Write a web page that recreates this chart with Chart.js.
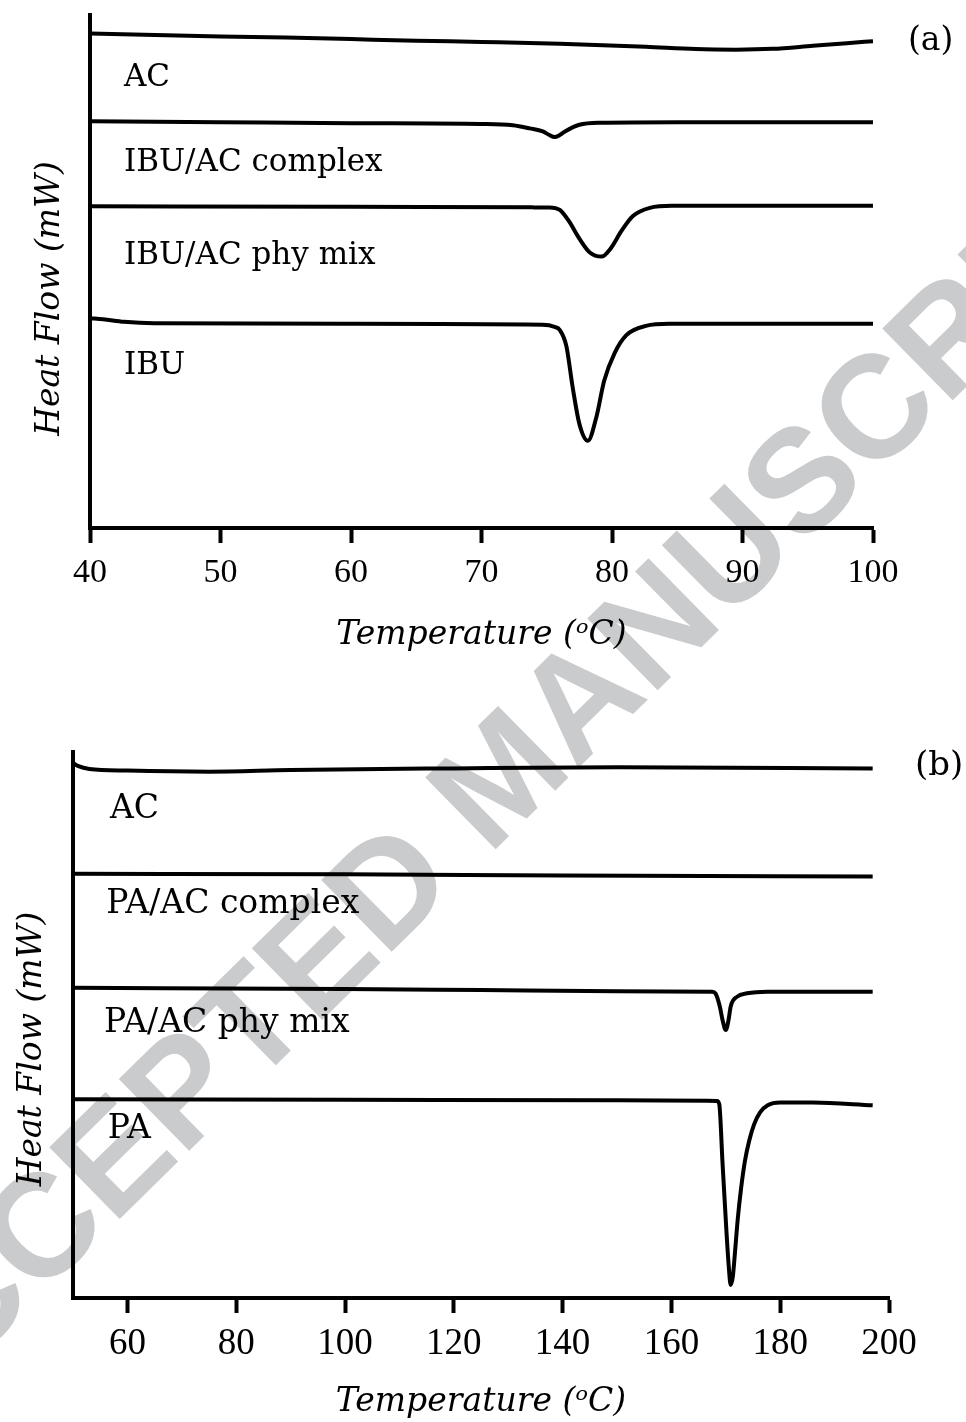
<!DOCTYPE html>
<html>
<head>
<meta charset="utf-8">
<script src="https://cdn.jsdelivr.net/npm/chart.js@4.4.0/dist/chart.umd.min.js"></script>
<style>
  html, body { margin: 0; padding: 0; background: #fff; }
  #page { position: relative; width: 966px; height: 1422px; overflow: hidden; }
  #wm {
    position: absolute; left: 500px; top: 775px;
    transform: translate(-50%, -50%) rotate(-44.5deg);
    font: bold 146px "Liberation Sans", Arial, sans-serif;
    color: #cacbcd; white-space: nowrap; line-height: 1;
  }
  canvas { position: absolute; left: 0; }
  #chartA { top: 0; }
  #chartB { top: 700px; }
</style>
</head>
<body>
<div id="page">
  <div id="wm">ACCEPTED MANUSCRIPT</div>
  <canvas id="chartA" width="966" height="700"></canvas>
  <canvas id="chartB" width="966" height="722"></canvas>
</div>
<script>
// ---- panel (a): IBU ----
const tickValsA = [40, 50, 60, 70, 80, 90, 100];
const seriesA = ['AC', 'IBU/AC complex', 'IBU/AC phy mix', 'IBU'];

const tempA_AC = [40, 45, 50, 55, 60, 65, 70, 76, 82.6, 86.4, 89.5, 92.3, 95.4, 98, 100];
const hfA_AC   = [96.4, 96.1, 95.8, 95.6, 95.3, 95.0, 94.75, 94.4, 93.8, 93.35, 93.25, 93.4, 94.0, 94.5, 94.9];

const tempA_cx = [40, 50, 60, 70, 72.4, 73.7, 74.7, 75.2, 75.6, 76.0, 76.4, 77.5, 79.0, 85, 100];
const hfA_cx   = [79.3, 79.1, 78.9, 78.75, 78.5, 77.9, 77.3, 76.6, 76.2, 76.6, 77.3, 78.6, 79.0, 79.1, 79.1];

const tempA_pm = [40, 60, 74, 75.2, 76.0, 76.7, 77.5, 78.3, 79.2, 79.9, 80.7, 81.6, 82.9, 84.6, 90, 100];
const hfA_pm   = [62.7, 62.6, 62.5, 62.5, 62.0, 59.8, 56.4, 53.7, 52.9, 54.5, 57.8, 60.8, 62.4, 62.8, 62.8, 62.8];

const tempA_ibu = [40, 41, 42.6, 44.9, 60, 74.7, 75.6, 76.0, 76.5, 77.0, 77.5, 78.15, 78.8, 79.4, 80.2, 81.1, 82.6, 84.4, 90, 100];
const hfA_ibu   = [40.9, 40.7, 40.2, 39.9, 39.8, 39.6, 39.2, 38.6, 35.5, 27.2, 20.3, 17.0, 21.6, 28.7, 34.1, 37.6, 39.4, 39.8, 39.8, 39.8];

// ---- panel (b): PA ----
const tickValsB = [60, 80, 100, 120, 140, 160, 180, 200];
const seriesB = ['AC', 'PA/AC complex', 'PA/AC phy mix', 'PA'];

const tempB_AC = [50, 51, 53, 60, 75, 90, 120, 150, 197];
const hfB_AC   = [98.0, 97.4, 96.9, 96.6, 96.4, 96.7, 97.0, 97.2, 97.0];

const tempB_cx = [50, 100, 140, 197];
const hfB_cx   = [77.7, 77.6, 77.4, 77.2];

const tempB_pm = [50, 100, 125, 150, 167.5, 168.1, 168.9, 169.4, 170.0, 170.5, 170.9, 172.1, 173.9, 177.6, 197];
const hfB_pm   = [56.8, 56.6, 56.4, 56.2, 56.1, 55.8, 53.4, 50.9, 49.1, 50.9, 53.4, 55.2, 55.8, 56.1, 56.1];

const tempB_pa = [50, 100, 150, 168.4, 168.8, 169.4, 170.1, 170.55, 170.9, 171.3, 171.7, 172.2, 172.8, 173.5, 174.3, 175.2, 176.3, 177.7, 180, 186, 197];
const hfB_pa   = [36.4, 36.3, 36.2, 36.1, 35.5, 24.7, 12.5, 5.7, 2.4, 4.0, 8.5, 14.5, 20.0, 25.0, 28.8, 31.8, 34.0, 35.3, 35.8, 35.8, 35.3];

// label anchors (temperature, heat flow units) - layout only
const labelPosA = [[42.6, 87.7], [42.6, 71.1], [42.6, 53.1], [42.6, 31.6]];
const labelPosB = [[56.8, 89.4], [56.1, 72.1], [55.7, 50.2], [56.4, 30.9]];

const mk = (temps, hf) => ({
  data: temps.map((t, i) => ({ x: t, y: hf[i] })),
  showLine: true,
  borderColor: '#000',
  borderWidth: 4,
  pointRadius: 0,
  cubicInterpolationMode: 'monotone',
  fill: false
});

const curveText = {
  id: 'curveText',
  afterDatasetsDraw(chart, args, o) {
    const { ctx, chartArea } = chart;
    const x = chart.scales.x, y = chart.scales.y;
    ctx.save();
    ctx.fillStyle = '#000';
    ctx.textBaseline = 'middle';
    ctx.textAlign = 'left';
    ctx.font = o.labelFont;
    o.names.forEach((n, i) => {
      ctx.fillText(n, x.getPixelForValue(o.pos[i][0]), y.getPixelForValue(o.pos[i][1]));
    });
    ctx.font = o.panelFont;
    ctx.fillText(o.panel, chartArea.right + o.panelDx, chartArea.top + o.panelDy);
    ctx.translate(o.yTitleX, (chartArea.top + chartArea.bottom) / 2 + o.yTitleDy);
    ctx.rotate(-Math.PI / 2);
    ctx.textAlign = 'center';
    ctx.font = 'italic 33px "DejaVu Serif"';
    ctx.fillText('Heat Flow (mW)', 0, 0);
    ctx.restore();
  }
};

const makeChart = (id, cfg) => new Chart(document.getElementById(id), {
  type: 'scatter',
  data: { datasets: cfg.datasets },
  options: {
    responsive: false,
    animation: false,
    events: [],
    layout: { padding: { top: cfg.top, right: cfg.right, left: 0, bottom: 0 } },
    plugins: {
      legend: { display: false },
      tooltip: { enabled: false },
      curveText: cfg.text
    },
    scales: {
      x: {
        type: 'linear', min: cfg.xmin, max: cfg.xmax,
        afterBuildTicks: s => { s.ticks = cfg.ticks.map(v => ({ value: v })); },
        afterFit: s => { s.height = cfg.xHeight; },
        ticks: { color: '#000', font: { family: 'Liberation Serif', size: cfg.tickSize }, padding: cfg.tickPad, maxRotation: 0, autoSkip: false },
        grid: { drawOnChartArea: false, drawTicks: true, tickLength: 15, tickWidth: 4, tickColor: '#000' },
        border: { display: true, color: '#000', width: 4 },
        title: {
          display: true, text: 'Temperature (\u1D52C)', color: '#000',
          font: { family: 'DejaVu Serif', size: 33, style: 'italic' },
          padding: { top: 0, bottom: cfg.titlePad }
        }
      },
      y: {
        min: 0, max: 100,
        afterFit: s => { s.width = cfg.yWidth; },
        ticks: { display: false },
        grid: { display: false },
        border: { display: true, color: '#000', width: 4 }
      }
    }
  },
  plugins: [curveText]
});

makeChart('chartA', {
  datasets: [mk(tempA_AC, hfA_AC), mk(tempA_cx, hfA_cx), mk(tempA_pm, hfA_pm), mk(tempA_ibu, hfA_ibu)],
  top: 15, right: 93, yWidth: 90, xHeight: 172,
  xmin: 40, xmax: 100, ticks: tickValsA, tickSize: 34, tickPad: 10, titlePad: 45,
  text: { names: seriesA, pos: labelPosA, labelFont: '31px "DejaVu Serif"', panel: '(a)', panelFont: '33px "DejaVu Serif"', panelDx: 35, panelDy: 26.5, yTitleX: 50, yTitleDy: 27 }
});

makeChart('chartB', {
  datasets: [mk(tempB_AC, hfB_AC), mk(tempB_cx, hfB_cx), mk(tempB_pm, hfB_pm), mk(tempB_pa, hfB_pa)],
  top: 52, right: 77, yWidth: 73, xHeight: 124,
  xmin: 50, xmax: 200, ticks: tickValsB, tickSize: 37, tickPad: 9, titlePad: 0,
  text: { names: seriesB, pos: labelPosB, labelFont: '33px "DejaVu Serif"', panel: '(b)', panelFont: '34px "DejaVu Serif"', panelDx: 26, panelDy: 14.5, yTitleX: 32, yTitleDy: 24 }
});
</script>
</body>
</html>
